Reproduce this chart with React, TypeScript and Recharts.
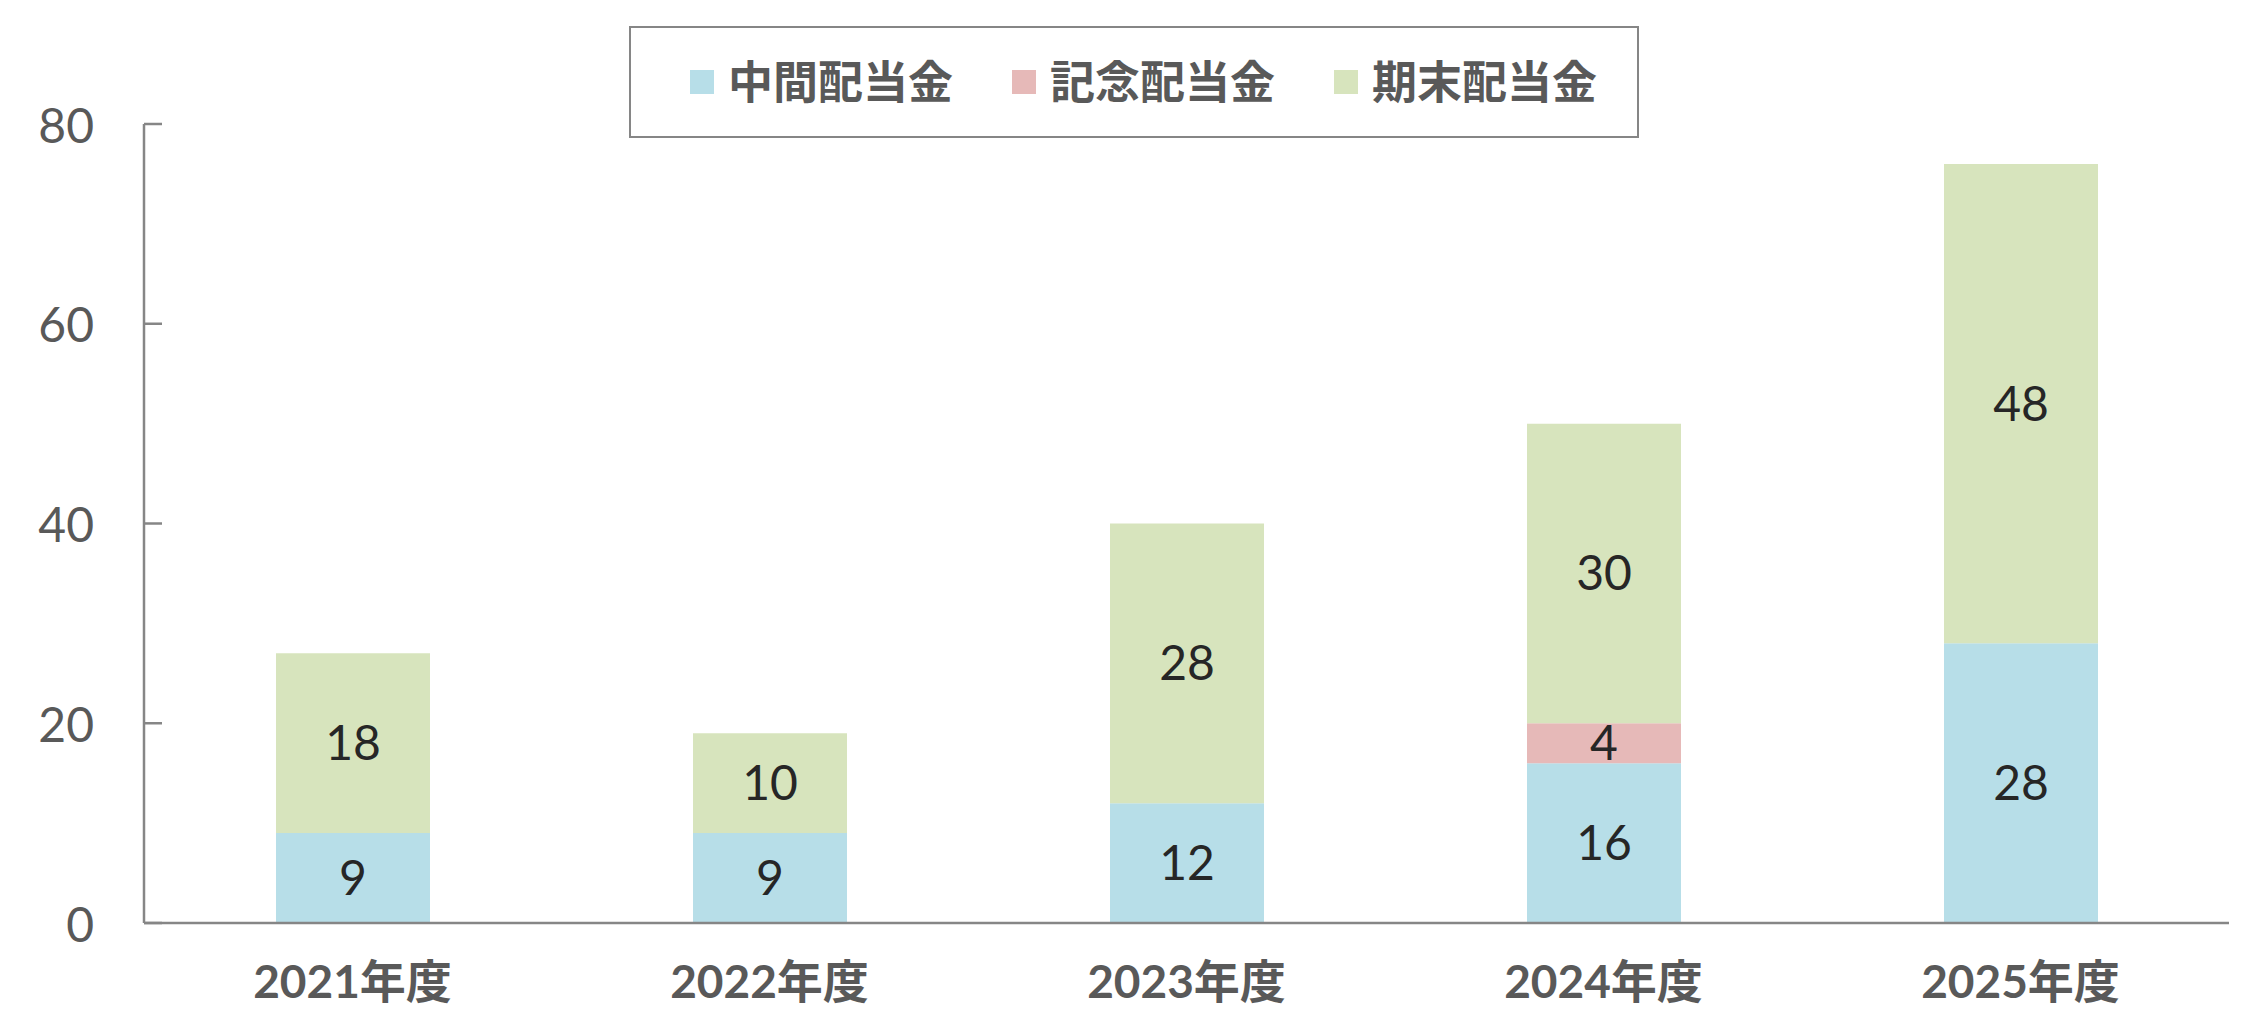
import React from 'react';
import { BarChart, Bar, XAxis, YAxis, Legend, LabelList } from 'recharts';

const years = ['2021年度', '2022年度', '2023年度', '2024年度', '2025年度'];
const interim = [9, 9, 12, 16, 28];
const commemorative = [0, 0, 0, 4, 0];
const yearEnd = [18, 10, 28, 30, 48];
const yTicks = [0, 20, 40, 60, 80];

const seriesNames = { interim: '中間配当金', commemorative: '記念配当金', yearEnd: '期末配当金' };
const legendOrder = [seriesNames.interim, seriesNames.commemorative, seriesNames.yearEnd];
const colors = { interim: '#B7DEE8', commemorative: '#E6B9B8', yearEnd: '#D7E4BD' };

const data = years.map((year, i) => ({
  year,
  interim: interim[i],
  commemorative: commemorative[i],
  yearEnd: yearEnd[i],
}));

const FONT = 'Lato, "Noto Sans CJK JP", sans-serif';
const AXIS = '#868686';
const TEXT = '#595959';

const hideZero = (v: any) => (v ? v : '');

const YTick = (props: any) => {
  const { x, y, payload } = props;
  return (
    <g>
      <line x1={x + 50} x2={x + 68} y1={y} y2={y} stroke={AXIS} strokeWidth={2.5} />
      <text x={x} y={y} textAnchor="end" dominantBaseline="central" fill={TEXT} fontSize={48} fontFamily={FONT}>
        {payload.value}
      </text>
    </g>
  );
};

const LegendBox = (props: any) => {
  const payload = [...(props.payload || [])].sort(
    (a: any, b: any) => legendOrder.indexOf(a.value) - legendOrder.indexOf(b.value)
  );
  return (
    <div
      style={{
        boxSizing: 'border-box',
        width: 1010,
        height: 112,
        border: `2.5px solid ${AXIS}`,
        background: '#fff',
        display: 'flex',
        alignItems: 'center',
        paddingLeft: 59,
        fontFamily: FONT,
      }}
    >
      {payload.map((item: any, i: number) => (
        <div key={item.value} style={{ display: 'flex', alignItems: 'center', marginRight: i < payload.length - 1 ? 59 : 0 }}>
          <span style={{ display: 'inline-block', width: 24, height: 24, background: item.color, marginRight: 14 }} />
          <span style={{ fontSize: 45, fontWeight: 700, color: TEXT, lineHeight: 1 }}>{item.value}</span>
        </div>
      ))}
    </div>
  );
};

export default function App() {
  return (
    <div style={{ position: 'absolute', left: 0, top: 0, background: '#fff' }}>
      <BarChart
        width={2262}
        height={1032}
        data={data}
        margin={{ top: 124, right: 33, left: 0, bottom: 29 }}
        style={{ fontFamily: FONT }}
      >
        <XAxis
          dataKey="year"
          height={80}
          axisLine={{ stroke: AXIS, strokeWidth: 2.5 }}
          tickLine={false}
          tickSize={0}
          tickMargin={42}
          tick={{ fill: TEXT, fontSize: 46, fontWeight: 700, fontFamily: FONT }}
        />
        <YAxis
          width={144}
          domain={[0, 80]}
          ticks={yTicks}
          axisLine={{ stroke: AXIS, strokeWidth: 2.5 }}
          tickLine={false}
          tickSize={0}
          tickMargin={50}
          tick={<YTick />}
        />
        <Legend
          layout="horizontal"
          verticalAlign="middle"
          align="center"
          wrapperStyle={{ left: 629, top: 26, width: 1010, height: 112 }}
          content={<LegendBox />}
        />
        <Bar dataKey="interim" name={seriesNames.interim} stackId="a" fill={colors.interim} barSize={154} isAnimationActive={false}>
          <LabelList dataKey="interim" position="center" formatter={hideZero} fill="#262626" fontSize={48} fontFamily={FONT} />
        </Bar>
        <Bar dataKey="commemorative" name={seriesNames.commemorative} stackId="a" fill={colors.commemorative} barSize={154} isAnimationActive={false}>
          <LabelList dataKey="commemorative" position="center" formatter={hideZero} fill="#262626" fontSize={48} fontFamily={FONT} />
        </Bar>
        <Bar dataKey="yearEnd" name={seriesNames.yearEnd} stackId="a" fill={colors.yearEnd} barSize={154} isAnimationActive={false}>
          <LabelList dataKey="yearEnd" position="center" formatter={hideZero} fill="#262626" fontSize={48} fontFamily={FONT} />
        </Bar>
      </BarChart>
    </div>
  );
}
